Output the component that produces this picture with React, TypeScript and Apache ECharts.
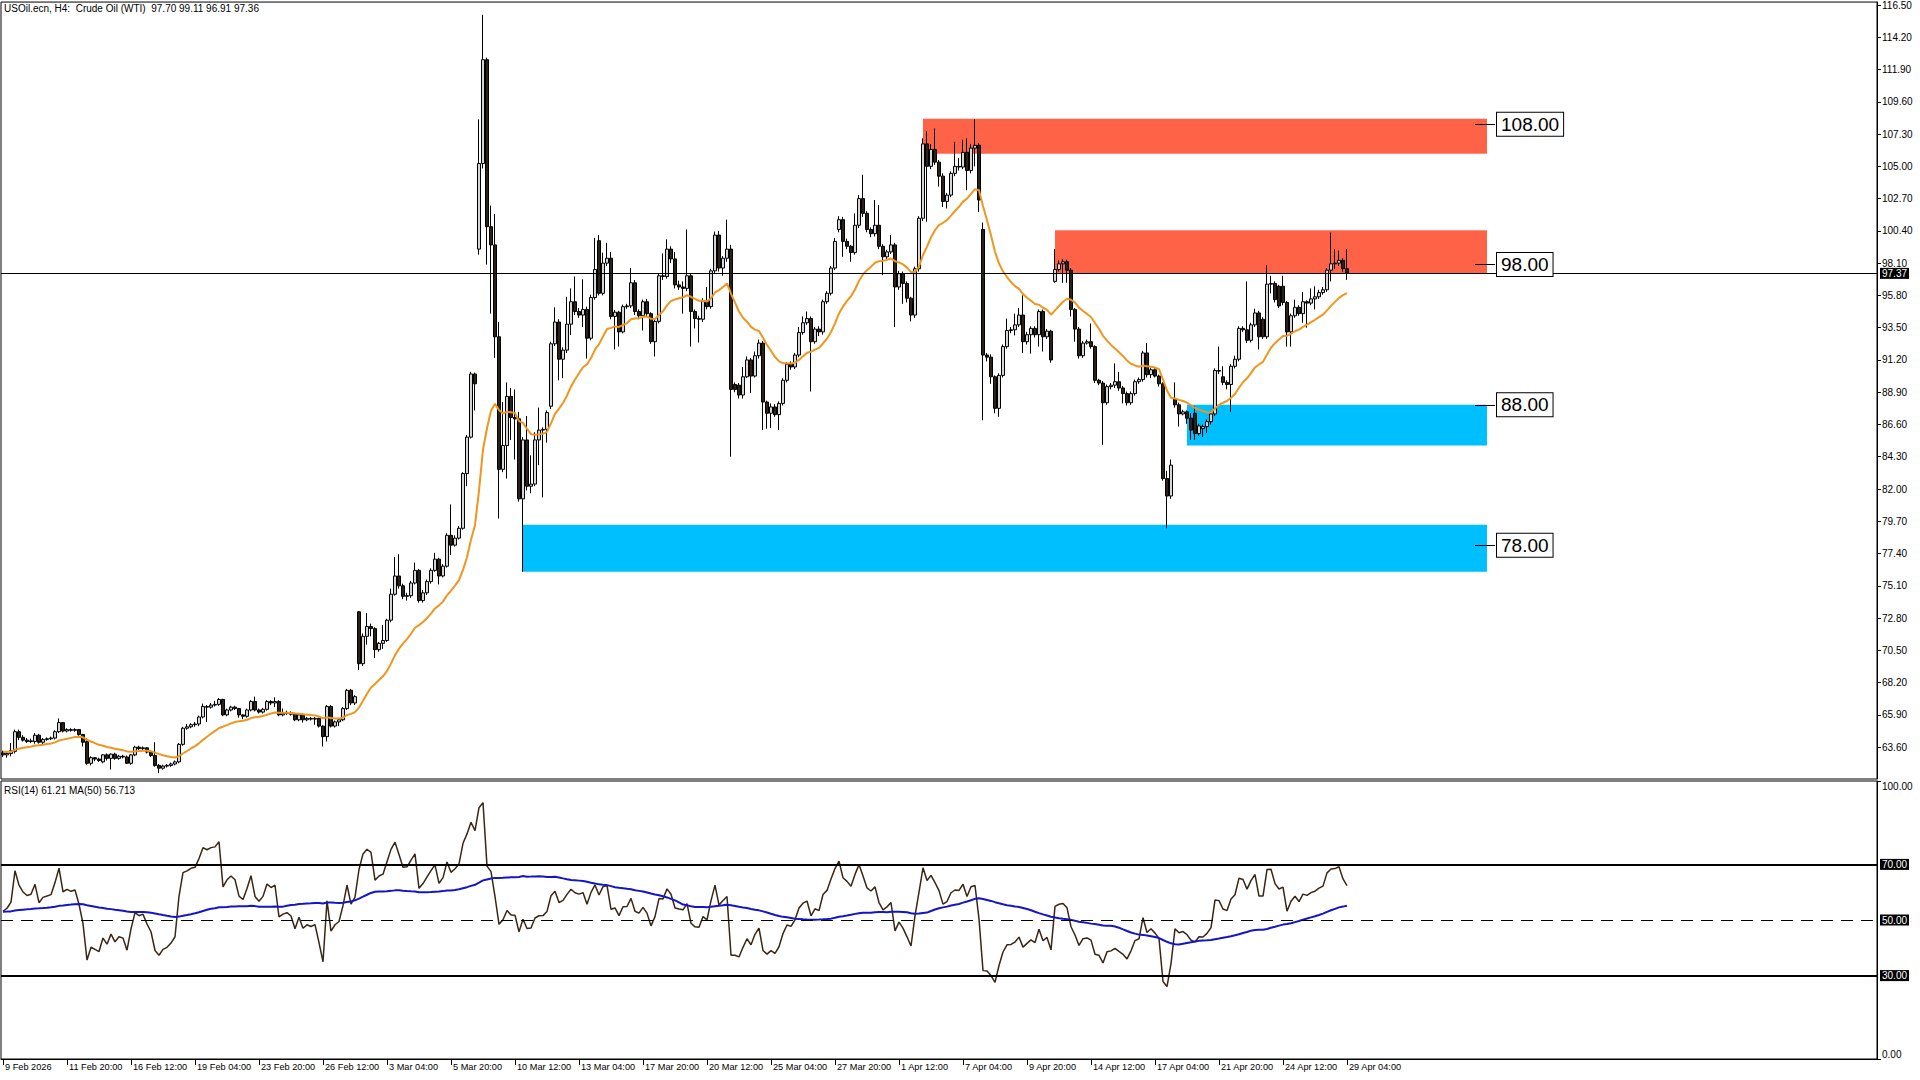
import React, { useEffect, useRef } from "react";
import * as echarts from "echarts";

const FONT = "'Liberation Sans', Arial, sans-serif";

const tickLabels = [
  "9 Feb 2026", "11 Feb 20:00", "16 Feb 12:00", "19 Feb 04:00", "23 Feb 20:00", "26 Feb 12:00",
  "3 Mar 04:00", "5 Mar 20:00", "10 Mar 12:00", "13 Mar 04:00", "17 Mar 20:00", "20 Mar 12:00",
  "25 Mar 04:00", "27 Mar 20:00", "1 Apr 12:00", "7 Apr 04:00", "9 Apr 20:00", "14 Apr 12:00",
  "17 Apr 04:00", "21 Apr 20:00", "24 Apr 12:00", "29 Apr 04:00",
];
const BARS_PER_LABEL = 16;
const SLOTS = 469;

const priceTicks = [63.6, 65.9, 68.2, 70.5, 72.8, 75.1, 77.4, 79.7, 82.0, 84.3, 86.6, 88.9, 91.2, 93.5, 95.8, 98.1, 100.4, 102.7, 105.0, 107.3, 109.6, 111.9, 114.2, 116.5];
const rsiTicks = [0, 100];
const rsiLevels = [70, 50, 30];
const lastPrice = 97.37;

const opens = [
63.20,63.05,63.15,63.30,64.70,64.30,64.10,64.00,64.00,64.45,
63.95,64.15,64.20,64.25,64.70,65.35,64.75,64.85,64.80,64.85,
64.50,64.00,62.45,62.85,62.75,62.55,63.05,62.80,63.10,62.80,
62.95,62.90,62.45,63.05,63.60,63.50,63.55,63.25,63.00,62.30,
62.10,62.25,62.30,62.40,62.55,63.80,64.95,65.05,65.20,65.25,
65.75,66.50,66.45,66.60,66.65,67.00,65.90,66.25,66.45,66.35,
65.90,65.80,66.25,66.85,66.25,66.10,66.30,66.85,66.75,66.85,
65.90,66.00,66.05,65.95,65.55,65.90,65.55,65.65,65.60,65.65,
65.10,64.35,66.50,65.10,65.40,65.55,66.35,67.65,66.75,73.25,
69.55,71.50,72.20,72.05,70.55,71.00,71.20,72.65,74.50,75.80,
75.10,74.35,74.40,75.30,76.20,74.05,74.60,75.40,76.20,77.00,
75.80,76.50,78.70,78.00,78.50,79.20,83.10,85.70,90.20,99.10,
105.20,112.60,100.70,99.40,92.85,83.40,85.10,88.60,87.10,87.00,
81.30,85.50,82.20,82.35,85.50,86.20,86.25,87.90,92.35,93.90,
91.25,91.90,93.75,95.35,94.65,94.40,94.80,92.75,95.65,99.70,
95.95,98.10,98.45,94.30,94.60,93.20,95.00,95.05,96.70,94.65,
94.35,95.35,94.50,92.50,93.95,97.20,97.15,99.10,98.40,96.55,
96.40,96.30,97.20,94.65,94.15,94.10,95.40,95.00,97.55,100.10,
97.75,98.45,99.10,89.45,89.40,88.70,90.00,91.20,90.05,91.50,
92.40,88.20,87.40,87.85,87.30,88.10,89.75,90.90,90.70,91.55,
93.15,93.85,94.15,92.50,93.40,93.20,95.35,95.95,97.75,100.50,
101.20,99.65,99.30,98.85,100.80,102.70,101.65,100.50,100.20,100.80,
99.30,98.55,98.90,99.40,96.40,97.35,96.65,95.60,94.40,97.70,
101.30,106.60,105.00,106.20,105.30,104.30,102.50,102.95,104.50,105.00,
104.95,106.00,104.70,106.30,106.50,100.50,91.55,91.40,90.00,87.75,
90.10,92.15,93.30,93.35,93.70,94.40,92.50,93.00,93.45,93.00,
94.65,92.85,93.25,96.80,97.65,98.05,98.20,97.60,94.80,93.40,
91.50,92.40,92.50,92.15,89.75,89.55,88.15,89.30,89.40,89.65,
89.20,88.80,88.15,88.80,89.65,89.80,91.70,90.15,90.50,90.05,
89.50,82.75,81.50,88.45,88.00,87.35,87.50,87.05,87.40,85.95,
86.30,86.45,86.80,87.35,90.45,90.00,89.60,89.45,90.75,91.25,
93.45,93.35,92.60,93.70,94.55,94.10,92.85,96.60,96.65,96.45,
96.45,95.30,93.20,94.35,94.95,94.50,95.35,95.25,95.55,95.70,
96.00,96.20,97.60,98.05,98.10,98.30,97.70,
];

const closes = [
63.05,63.15,63.35,64.70,64.30,64.10,64.00,64.05,64.45,63.95,
64.15,64.20,64.25,64.70,65.35,64.75,64.85,64.80,64.85,64.50,
63.95,62.45,62.85,62.75,62.65,63.05,62.80,63.10,62.80,62.95,
62.90,62.45,63.05,63.60,63.50,63.55,63.25,63.00,62.30,62.10,
62.25,62.30,62.40,62.55,63.80,64.95,65.05,65.20,65.25,65.75,
66.50,66.45,66.60,66.65,67.00,65.90,66.25,66.45,66.35,65.90,
65.80,66.25,66.85,66.25,66.10,66.30,66.85,66.75,66.85,65.90,
66.00,66.05,65.95,65.55,65.90,65.55,65.65,65.60,65.65,65.10,
64.35,66.50,65.10,65.40,65.55,66.35,67.65,66.75,67.20,69.55,
71.50,72.20,72.05,70.55,71.00,71.20,72.65,74.50,75.80,75.10,
74.35,74.40,75.30,76.20,74.05,74.60,75.40,76.20,77.00,75.80,
76.50,78.70,78.00,78.50,79.20,83.10,85.70,90.20,89.50,105.20,
112.60,100.70,99.40,92.85,83.40,85.10,88.60,87.10,87.00,81.30,
85.50,82.20,82.35,85.50,86.20,86.25,87.45,92.35,93.90,91.25,
91.90,93.75,95.35,94.65,94.40,94.80,92.75,95.65,97.65,95.95,
98.10,98.45,94.30,94.60,93.20,95.00,95.05,96.70,94.65,94.35,
95.35,94.50,92.50,93.95,97.20,97.15,99.10,98.40,96.55,96.40,
96.30,97.20,94.65,94.15,94.10,95.40,95.00,97.55,100.10,97.75,
98.45,99.10,89.10,89.10,88.70,90.00,91.20,90.05,91.50,92.40,
88.20,87.40,87.85,87.30,88.10,89.75,90.90,90.70,91.55,93.15,
93.85,94.15,92.50,93.40,93.20,95.35,95.95,97.75,99.65,101.20,
99.65,99.30,98.85,100.80,102.70,101.65,100.50,100.20,100.80,99.30,
98.55,98.90,99.40,96.40,97.35,96.65,95.60,94.40,97.70,101.30,
106.60,105.00,106.20,105.30,104.30,102.50,102.95,104.50,105.00,104.95,
106.00,104.70,106.30,106.50,102.60,91.55,91.40,90.00,87.75,90.10,
92.15,93.30,93.35,93.70,94.40,92.50,93.00,93.45,93.00,94.65,
92.85,93.25,91.20,97.65,98.05,98.20,97.60,94.80,93.40,91.50,
92.40,92.50,92.15,89.75,89.55,88.15,89.30,89.40,89.65,89.20,
88.80,88.15,88.80,89.65,89.80,91.70,90.15,90.50,90.05,89.50,
82.75,81.50,83.70,88.00,87.35,87.50,87.05,86.20,85.95,86.50,
86.45,86.80,87.35,90.45,90.40,89.60,89.45,90.75,91.25,93.45,
93.35,92.60,93.70,94.55,92.85,92.85,96.60,96.65,95.50,95.05,
95.30,93.20,94.35,94.95,94.50,95.35,95.25,95.55,95.70,96.00,
96.20,97.60,98.05,98.10,98.30,97.70,97.36,
];

const lows = [
62.90,62.85,62.95,63.15,64.10,64.00,63.90,63.90,63.85,63.85,
63.75,64.05,64.10,64.15,64.60,64.65,64.65,64.70,64.70,64.40,
63.65,62.35,62.30,62.60,62.55,62.45,62.65,62.00,62.70,62.70,
62.80,62.40,62.35,62.95,63.40,63.40,63.15,62.90,62.20,61.75,
62.00,62.15,62.20,62.30,62.45,63.70,64.85,64.95,65.05,65.10,
65.65,65.40,66.35,66.50,66.55,65.80,65.80,66.15,66.25,65.70,
65.60,65.70,66.15,66.15,66.00,66.00,66.20,66.60,66.45,65.80,
65.80,65.90,65.85,65.45,65.45,65.35,65.45,65.50,65.20,65.00,
63.65,64.00,65.00,65.00,65.10,65.45,66.25,66.60,66.60,69.10,
69.40,70.90,71.50,69.95,70.40,70.60,71.10,72.50,74.40,74.90,
74.15,74.05,74.25,75.20,73.90,73.90,74.45,75.25,76.10,75.20,
75.70,76.40,77.30,77.90,78.40,79.10,82.20,85.60,87.60,98.70,
104.85,98.00,94.50,91.35,79.90,83.20,82.75,85.50,84.10,81.10,
76.10,81.90,81.70,82.20,83.70,81.40,85.30,87.70,92.20,89.75,
89.90,91.70,92.98,94.40,94.20,93.55,91.30,92.60,95.50,95.80,
95.80,97.90,94.10,91.95,92.15,93.10,94.85,94.90,94.40,94.10,
93.30,94.30,92.35,91.45,93.80,96.90,97.00,98.10,96.30,96.20,
94.50,96.10,92.15,93.45,92.45,93.90,94.80,94.85,97.40,97.50,
97.20,98.20,84.30,88.90,88.45,88.45,89.90,88.85,89.95,91.30,
86.20,86.30,86.35,87.15,86.20,87.95,89.60,90.50,90.55,91.40,
93.00,93.70,88.95,92.35,92.90,93.00,95.20,95.80,97.60,100.30,
98.55,99.10,98.20,98.70,100.60,101.40,100.30,99.95,100.00,99.10,
97.25,98.40,98.75,93.55,96.20,95.20,95.30,93.95,94.20,97.50,
101.10,101.05,104.80,105.10,103.55,102.10,102.00,102.80,104.30,104.70,
104.80,103.30,104.50,105.00,101.75,86.90,91.10,89.50,87.40,87.15,
89.95,92.00,93.10,92.95,93.55,91.70,92.30,91.65,92.80,92.15,
91.80,92.70,91.00,96.70,97.50,96.70,96.70,94.30,92.50,91.30,
91.35,92.30,92.00,89.55,89.40,85.15,88.00,89.10,89.20,89.00,
88.10,87.95,88.00,88.65,89.50,89.65,89.95,89.90,89.95,89.30,
82.60,79.20,81.30,87.80,86.45,87.25,86.65,85.50,85.50,85.80,
85.70,86.00,86.60,87.20,90.20,89.40,89.10,87.50,90.60,91.10,
93.20,92.40,92.45,93.55,91.95,92.70,92.70,95.95,95.30,94.90,
95.10,92.15,92.15,94.20,94.35,93.85,93.50,95.10,94.80,95.55,
95.85,96.05,96.80,97.70,97.90,97.45,96.91,
];

const highs = [
63.35,63.30,63.90,64.85,64.85,64.45,64.25,64.20,64.60,64.55,
64.25,64.30,64.35,64.80,65.65,65.40,64.95,64.95,64.95,64.90,
64.55,64.25,62.95,62.90,62.85,63.10,63.15,63.15,63.20,63.05,
63.05,63.00,63.10,63.70,63.70,63.65,63.60,63.35,63.95,62.40,
62.35,62.40,62.50,62.65,63.90,65.05,65.25,65.30,65.40,65.85,
66.70,66.60,66.75,66.90,67.10,67.05,66.35,66.55,66.55,66.40,
65.95,66.35,66.95,67.20,66.35,66.40,66.95,66.95,67.15,66.95,
66.35,66.20,66.15,66.05,66.00,66.00,65.75,65.75,65.75,65.70,
65.15,66.60,66.60,65.50,65.65,66.45,67.75,67.75,67.30,73.30,
71.70,73.15,72.40,72.15,71.10,72.30,72.75,74.90,77.15,77.35,
75.25,74.60,75.45,76.75,76.30,74.80,75.55,76.35,77.45,77.10,
76.65,78.85,80.90,78.70,79.35,83.20,85.85,90.35,90.30,108.35,
115.80,112.75,102.20,101.60,93.90,88.20,89.60,89.20,89.10,87.50,
85.70,87.20,84.40,86.05,87.80,86.40,87.60,92.50,94.95,94.10,
92.10,95.70,96.30,97.15,94.90,96.95,95.00,95.85,99.90,100.10,
98.85,99.55,98.90,94.75,94.70,95.15,95.20,97.75,96.90,94.80,
95.50,95.55,94.60,94.10,97.35,98.80,99.80,99.30,98.90,96.85,
96.80,100.50,97.35,94.80,94.35,95.60,96.40,97.70,100.35,100.40,
98.60,101.20,99.40,89.60,89.55,90.70,91.45,91.35,91.80,92.65,
92.55,88.30,88.10,88.05,88.25,89.90,91.05,91.10,91.70,93.55,
94.30,94.65,94.30,93.55,93.60,95.50,96.10,97.90,99.90,101.45,
101.40,99.85,99.40,101.65,102.95,104.40,101.80,100.65,102.60,102.25,
99.45,99.05,100.10,99.55,97.55,97.50,96.80,95.70,97.85,101.45,
107.00,107.50,106.60,107.70,105.45,104.50,103.10,104.65,106.75,105.60,
106.90,107.00,106.60,108.35,106.65,101.00,91.70,91.60,90.10,90.25,
92.30,94.15,93.55,94.50,94.90,95.80,93.20,93.60,93.60,94.80,
94.80,93.40,93.35,99.10,98.30,98.40,98.35,97.75,94.90,93.55,
92.55,92.65,93.80,92.25,89.85,89.70,89.45,89.55,90.95,90.35,
89.35,88.95,88.95,89.80,89.95,91.85,92.40,90.65,90.60,90.15,
89.60,83.30,84.10,89.60,88.15,87.65,87.60,87.40,87.90,86.65,
86.60,86.95,87.50,90.60,92.15,90.75,89.75,90.90,91.50,93.60,
93.60,96.80,93.85,94.85,94.70,94.25,97.95,97.20,96.80,96.55,
97.20,95.40,94.50,95.50,95.10,96.05,95.45,96.30,96.45,96.20,
96.40,97.75,100.28,99.10,99.00,98.45,99.11,
];

// Supply / demand zones (bar index range, price range)
const zoneStart = [230, 263, 296, 130];
const zoneEnd = [371, 371, 371, 371];
const zoneTop = [108.4, 100.45, 88.0, 79.45];
const zoneBottom = [105.9, 97.4, 85.1, 76.1];
const zoneColor = ["#ff6347", "#ff6347", "#00bfff", "#00bfff"];
const levelLabels = [108, 98, 88, 78];
const levelLineFrom = 368;
const levelLineTo = 373;

// Indicator settings (from the chart header: RSI(14), MA(50) of RSI; price EMA(20))
const EMA_PERIOD = 20;
const EMA_SEED = 63.3;
const RSI_PERIOD = 14;
const RSI_SEED_GAIN = 0.17;
const RSI_SEED_LOSS = 0.15;
const RSI_MA_PERIOD = 50;
const RSI_MA_PRIOR = 53;

function computeEma(vals: number[]) {
  const k = 2 / (EMA_PERIOD + 1);
  let e = EMA_SEED;
  return vals.map((c) => {
    e = e + k * (c - e);
    return +e.toFixed(3);
  });
}

function computeRsi(vals: number[]) {
  let ag = RSI_SEED_GAIN;
  let al = RSI_SEED_LOSS;
  const out: number[] = [];
  vals.forEach((c, i) => {
    if (i > 0) {
      const d = c - vals[i - 1];
      ag = (ag * (RSI_PERIOD - 1) + Math.max(d, 0)) / RSI_PERIOD;
      al = (al * (RSI_PERIOD - 1) + Math.max(-d, 0)) / RSI_PERIOD;
    }
    out.push(+(100 - 100 / (1 + ag / al)).toFixed(2));
  });
  return out;
}

function computeSma(vals: number[]) {
  return vals.map((_, i) => {
    let s = 0;
    for (let j = i - RSI_MA_PERIOD + 1; j <= i; j++) s += j >= 0 ? vals[j] : RSI_MA_PRIOR;
    return +(s / RSI_MA_PERIOD).toFixed(3);
  });
}

export default function App() {
  const ref = useRef<HTMLDivElement>(null);

  useEffect(() => {
    document.body.style.margin = "0";
    if (!ref.current) return;
    const chart = echarts.init(ref.current, undefined, { renderer: "svg" });

    const n = Math.min(opens.length, closes.length, lows.length, highs.length);
    const candles = [];
    for (let i = 0; i < n; i++) candles.push([opens[i], closes[i], lows[i], highs[i]]);
    const cl = closes.slice(0, n);
    const ema = computeEma(cl);
    const rsi = computeRsi(cl);
    const rsiMa = computeSma(rsi);

    const cats = Array.from({ length: SLOTS }, (_, i) => String(i));
    const showLabel = (index: number) =>
      index % BARS_PER_LABEL === 0 && index / BARS_PER_LABEL < tickLabels.length;

    const txt = { fontFamily: FONT, color: "#000", fontSize: 10 };

    const zonesData = zoneStart.map((s, k) => [
      { xAxis: String(s), yAxis: zoneTop[k], itemStyle: { color: zoneColor[k], opacity: 1 } },
      { xAxis: String(zoneEnd[k]), yAxis: zoneBottom[k] },
    ]);

    const levelLines = levelLabels.map((lv) => [
      {
        coord: [String(levelLineFrom), lv],
        lineStyle: { color: "#000", width: 1, type: "solid" },
        label: {
          show: true,
          position: "end",
          distance: 2,
          formatter: lv.toFixed(2),
          fontFamily: FONT,
          fontSize: 19,
          color: "#000",
          backgroundColor: "#fff",
          borderColor: "#000",
          borderWidth: 1,
          padding: [2, 4, 1, 4],
          lineHeight: 20,
        },
      },
      { coord: [String(levelLineTo), lv] },
    ]);

    const option = {
      animation: false,
      backgroundColor: "#fff",
      textStyle: { fontFamily: FONT },
      title: [
        {
          text: "USOil.ecn, H4:  Crude Oil (WTI)  97.70 99.11 96.91 97.36",
          left: 4,
          top: 3,
          padding: 0,
          textStyle: { ...txt, fontWeight: "normal" },
        },
        {
          text: "RSI(14) 61.21 MA(50) 56.713",
          left: 4,
          top: 785,
          padding: 0,
          textStyle: { ...txt, fontWeight: "normal" },
        },
      ],
      grid: [
        { left: 1, top: 2, width: 1876, height: 777, show: true, borderColor: "#000", borderWidth: 1, backgroundColor: "#fff" },
        { left: 1, top: 781, width: 1876, height: 278, show: true, borderColor: "#000", borderWidth: 1, backgroundColor: "#fff" },
      ],
      xAxis: [
        {
          type: "category",
          gridIndex: 0,
          data: cats,
          boundaryGap: true,
          axisLine: { show: false },
          axisTick: { show: false },
          axisLabel: { show: false },
          splitLine: { show: false },
        },
        {
          type: "category",
          gridIndex: 1,
          data: cats,
          boundaryGap: true,
          axisLine: { show: true, lineStyle: { color: "#000", width: 1 } },
          axisTick: { show: true, alignWithLabel: true, interval: showLabel, length: 6, lineStyle: { color: "#000" } },
          axisLabel: {
            interval: showLabel,
            formatter: (value: string) => tickLabels[Number(value) / BARS_PER_LABEL] ?? "",
            align: "left",
            margin: 3,
            padding: [0, 0, 0, 2],
            fontFamily: FONT,
            color: "#000",
            fontSize: 9.2,
          },
          splitLine: { show: false },
        },
      ],
      yAxis: [
        {
          type: "value",
          gridIndex: 0,
          position: "right",
          min: 61.33,
          max: 116.71,
          axisLine: { show: true, lineStyle: { color: "#000" } },
          axisTick: { show: true, length: 4, customValues: priceTicks, lineStyle: { color: "#000" } },
          axisLabel: { customValues: priceTicks, formatter: (v: number) => v.toFixed(2), margin: 5, ...txt },
          splitLine: { show: false },
        },
        {
          type: "value",
          gridIndex: 1,
          position: "right",
          min: 0,
          max: 100,
          axisLine: { show: true, lineStyle: { color: "#000" } },
          axisTick: { show: true, length: 4, customValues: rsiTicks, lineStyle: { color: "#000" } },
          axisLabel: {
            customValues: rsiTicks,
            formatter: (v: number) => v.toFixed(2),
            margin: 5,
            verticalAlignMaxLabel: "top",
            verticalAlignMinLabel: "bottom",
            ...txt,
          },
          splitLine: { show: false },
        },
      ],
      series: [
        {
          name: "USOil",
          type: "candlestick",
          xAxisIndex: 0,
          yAxisIndex: 0,
          data: candles,
          barWidth: 3,
          z: 2,
          itemStyle: {
            color: "#d6d6d6",
            color0: "#2b2118",
            borderColor: "#000",
            borderColor0: "#000",
            borderWidth: 1,
          },
          markArea: {
            silent: true,
            z: 1,
            data: zonesData,
          },
          markLine: {
            silent: true,
            symbol: ["none", "none"],
            animation: false,
            data: [
              {
                yAxis: lastPrice,
                lineStyle: { color: "#000", width: 1, type: "solid" },
                label: {
                  show: true,
                  position: "end",
                  distance: 3,
                  formatter: lastPrice.toFixed(2),
                  backgroundColor: "#000",
                  color: "#fff",
                  padding: [1, 2, 0, 2],
                  fontFamily: FONT,
                  fontSize: 10,
                },
              },
              ...levelLines,
            ],
          },
        },
        {
          name: "EMA",
          type: "line",
          xAxisIndex: 0,
          yAxisIndex: 0,
          data: ema,
          showSymbol: false,
          z: 3,
          lineStyle: { color: "#f0961e", width: 2 },
          itemStyle: { color: "#f0961e" },
        },
        {
          name: "RSI",
          type: "line",
          xAxisIndex: 1,
          yAxisIndex: 1,
          data: rsi,
          showSymbol: false,
          z: 3,
          lineStyle: { color: "#3a2614", width: 1.5 },
          itemStyle: { color: "#3a2614" },
          markLine: {
            silent: true,
            symbol: ["none", "none"],
            data: rsiLevels.map((lv) => ({
              yAxis: lv,
              lineStyle: lv === 50 ? { color: "#000", width: 1, type: [12, 8] } : { color: "#000", width: 2, type: "solid" },
              label: {
                show: true,
                position: "end",
                distance: 3,
                formatter: lv.toFixed(2),
                backgroundColor: "#000",
                color: "#fff",
                padding: [1, 2, 0, 2],
                fontFamily: FONT,
                fontSize: 10,
              },
            })),
          },
        },
        {
          name: "RSI MA",
          type: "line",
          xAxisIndex: 1,
          yAxisIndex: 1,
          data: rsiMa,
          showSymbol: false,
          z: 4,
          lineStyle: { color: "#1414c8", width: 2 },
          itemStyle: { color: "#1414c8" },
        },
      ],
    };

    chart.setOption(option as any);
    return () => chart.dispose();
  }, []);

  return <div ref={ref} style={{ width: 1920, height: 1080 }} />;
}
